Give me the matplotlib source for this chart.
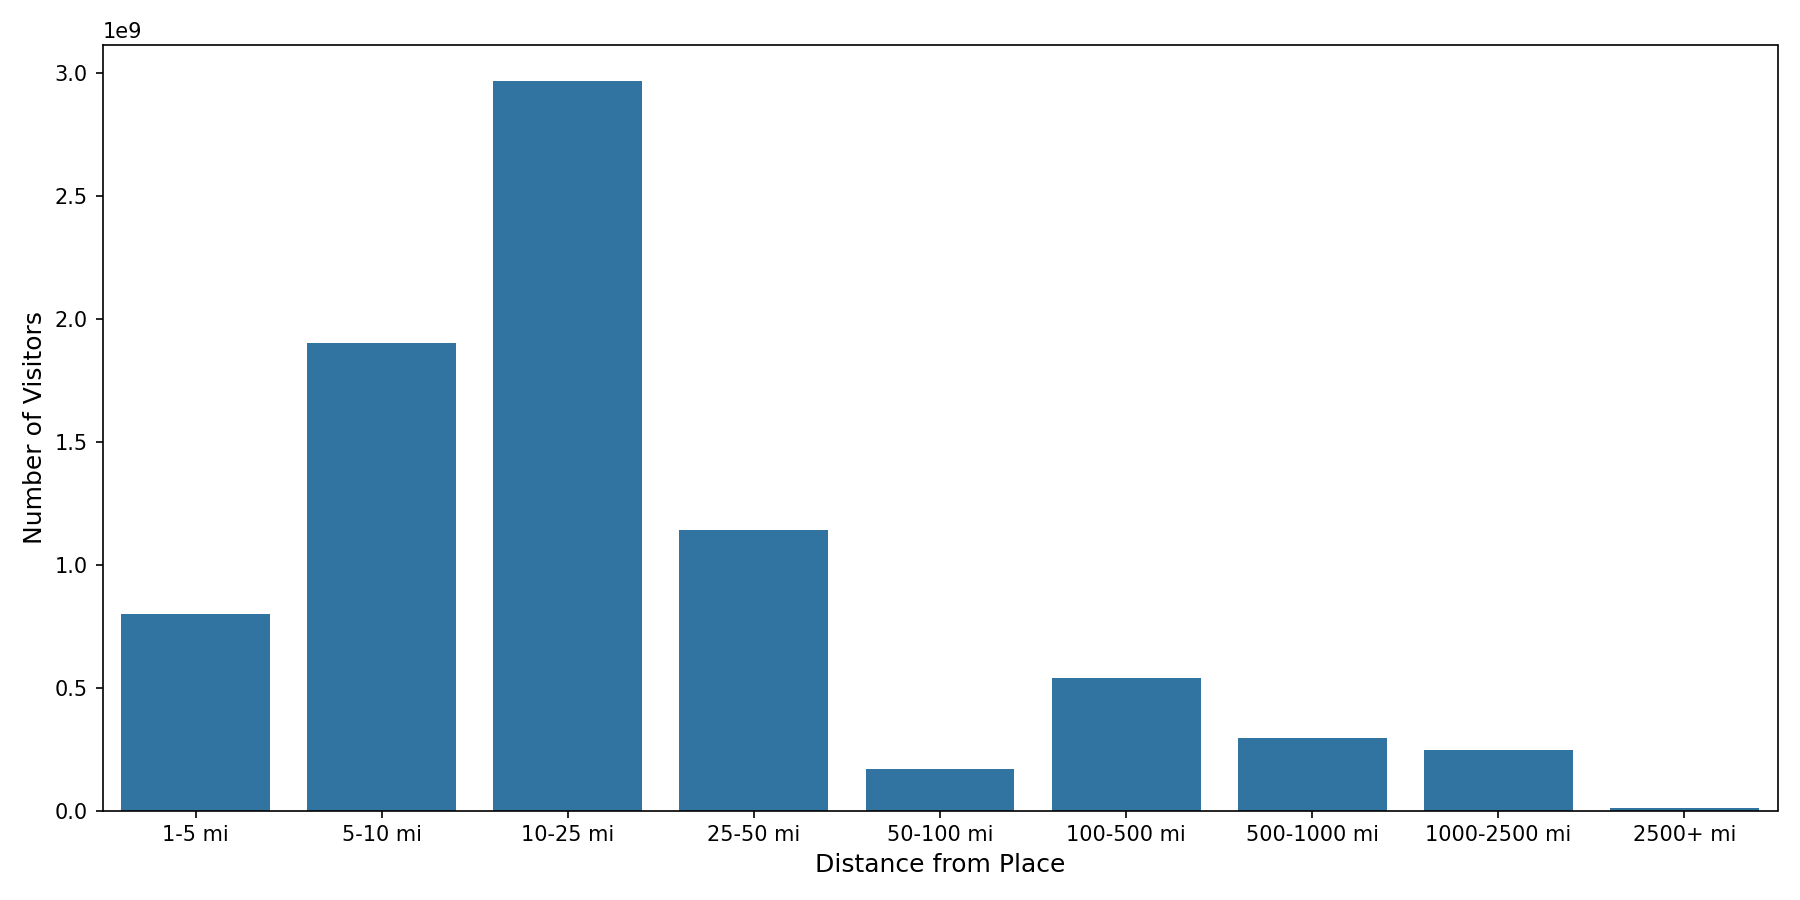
import matplotlib
matplotlib.use("Agg")
import matplotlib.pyplot as plt

categories = ["1-5 mi", "5-10 mi", "10-25 mi", "25-50 mi", "50-100 mi",
              "100-500 mi", "500-1000 mi", "1000-2500 mi", "2500+ mi"]
visitors = [0.798e9, 1.90e9, 2.965e9, 1.142e9, 0.168e9,
            0.538e9, 0.295e9, 0.248e9, 0.010e9]

fig, ax = plt.subplots(figsize=(12, 6), dpi=150)
x = range(len(categories))
ax.bar(x, visitors, width=0.8, color="#3274a1")
ax.set_xticks(list(x))
ax.set_xticklabels(categories)
ax.set_xlim(-0.5, len(categories) - 0.5)
ax.set_xlabel("Distance from Place", fontsize=12)
ax.set_ylabel("Number of Visitors", fontsize=12)
fig.tight_layout()
fig.savefig("out.png")
